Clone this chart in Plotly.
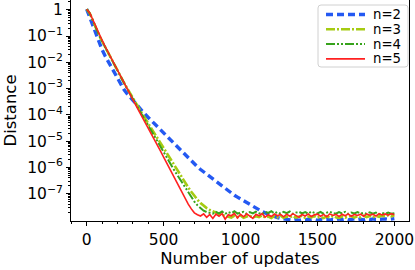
import plotly.graph_objects as go

updates = list(range(0, 2001, 20))

# log10(distance), one value every 20 updates
log_n2 = [0.02, -0.3, -0.62, -0.95, -1.25, -1.52, -1.76, -1.98, -2.2, -2.42,
          -2.63, -2.83, -3.02, -3.18, -3.32, -3.46, -3.59, -3.72, -3.85, -3.98,
          -4.1, -4.22, -4.34, -4.46, -4.58, -4.7, -4.82, -4.94, -5.06, -5.18,
          -5.3, -5.42, -5.54, -5.66, -5.77, -5.88, -5.98, -6.08, -6.17, -6.27,
          -6.37, -6.46, -6.56, -6.65, -6.74, -6.82, -6.9, -6.98, -7.06, -7.13,
          -7.2, -7.27, -7.35, -7.42, -7.49, -7.56, -7.62, -7.68, -7.73, -7.78,
          -7.83, -7.87, -7.91, -7.94, -7.96, -7.98,
          -7.99, -8.01, -7.98, -8.02, -7.99, -8.0, -7.97, -8.01, -7.99, -8.02,
          -7.98, -8.0, -7.97, -8.01, -7.98, -8.0, -7.96, -7.99, -7.97, -8.0,
          -7.98, -7.96, -7.99, -7.97, -8.0, -7.97, -7.99, -7.96, -7.98, -7.97,
          -7.99, -7.96, -7.98, -7.97, -7.95]

log_n3 = [0.02, -0.14, -0.41, -0.7, -0.96, -1.2, -1.43, -1.66, -1.89, -2.11,
          -2.32, -2.54, -2.75, -2.96, -3.17, -3.37, -3.57, -3.76, -3.95, -4.14,
          -4.33, -4.52, -4.71, -4.9, -5.09, -5.28, -5.46, -5.64, -5.83, -6.01,
          -6.2, -6.39, -6.58, -6.76, -6.93, -7.09, -7.23, -7.36, -7.47, -7.55,
          -7.62, -7.68, -7.73, -7.77, -7.81, -7.84,
          -7.86, -7.91, -7.84, -7.9, -7.83, -7.92, -7.87, -7.84, -7.91, -7.86,
          -7.89, -7.83, -7.91, -7.87, -7.93, -7.85, -7.9, -7.84, -7.92, -7.87,
          -7.9, -7.85, -7.91, -7.88, -7.84, -7.92, -7.87, -7.9, -7.85, -7.91,
          -7.88, -7.93, -7.86, -7.91, -7.85, -7.9, -7.92, -7.86, -7.91, -7.88,
          -7.85, -7.91, -7.86, -7.9, -7.84, -7.89, -7.85, -7.9, -7.84, -7.88,
          -7.83, -7.87, -7.82, -7.86, -7.82]

log_n4 = [0.02, -0.14, -0.41, -0.7, -0.96, -1.2, -1.43, -1.66, -1.89, -2.11,
          -2.33, -2.55, -2.77, -2.98, -3.19, -3.4, -3.6, -3.8, -4.0, -4.2,
          -4.41, -4.61, -4.81, -5.01, -5.22, -5.43, -5.63, -5.83, -6.02, -6.21,
          -6.4, -6.59, -6.78, -6.97, -7.14, -7.3, -7.44, -7.56, -7.65, -7.7,
          -7.72, -7.76, -7.69, -7.75, -7.68, -7.77, -7.7, -7.74, -7.67, -7.76,
          -7.72, -7.69, -7.77, -7.7, -7.75, -7.68, -7.74, -7.78, -7.69, -7.73,
          -7.67, -7.75, -7.7, -7.76, -7.69, -7.74, -7.68, -7.77, -7.72, -7.69,
          -7.75, -7.7, -7.76, -7.68, -7.73, -7.75, -7.69, -7.77, -7.72, -7.69,
          -7.74, -7.76, -7.7, -7.75, -7.69, -7.77, -7.72, -7.75, -7.7, -7.76,
          -7.73, -7.77, -7.71, -7.76, -7.72, -7.78, -7.73, -7.77, -7.72, -7.76,
          -7.74]

log_n5 = [0.02, -0.12, -0.38, -0.66, -0.92, -1.16, -1.4, -1.63, -1.86, -2.08,
          -2.3, -2.52, -2.75, -2.98, -3.2, -3.42, -3.64, -3.86, -4.07, -4.28,
          -4.5, -4.72, -4.94, -5.16, -5.38, -5.61, -5.84, -6.07, -6.3, -6.53,
          -6.76, -6.98, -7.2, -7.4, -7.58, -7.73, -7.8,
          -7.85, -7.77, -7.9, -7.79, -7.94, -7.78, -7.86, -7.76, -7.97, -7.8,
          -7.84, -7.75, -7.92, -7.79, -7.88, -7.77, -7.85, -7.94, -7.78, -7.84,
          -7.76, -7.89, -7.8, -7.87, -7.77, -7.84, -7.79, -7.88, -7.78, -7.86,
          -7.76, -7.83, -7.9, -7.79, -7.85, -7.77, -7.87, -7.8, -7.78, -7.86,
          -7.79, -7.88, -7.77, -7.83, -7.79, -7.87, -7.78, -7.84, -7.77, -7.86,
          -7.79, -7.83, -7.78, -7.86, -7.77, -7.82, -7.78, -7.85, -7.76, -7.81,
          -7.77, -7.82, -7.76, -7.8]

names = ["n=2", "n=3", "n=4", "n=5"]
series = [log_n2, log_n3, log_n4, log_n5]
colors = ["#2459f2", "#a6cb12", "#37a31c", "#ff2020"]
widths = [3.4, 2.6, 2.0, 1.6]
dashes = ["7px,4px", "9px,2px,2px,2px", "9px,2px,2px,2px,2px,2px", "solid"]

y_tick_exp = [0, -1, -2, -3, -4, -5, -6, -7]
y_tick_text = ["1"] + ["10<sup>\u2212%d</sup>" % (-e) for e in y_tick_exp[1:]]
x_tick_vals = [0, 500, 1000, 1500, 2000]

fig = go.Figure()
for name, logs, c, w, d in zip(names, series, colors, widths, dashes):
    fig.add_trace(go.Scatter(
        x=updates, y=[10 ** v for v in logs], mode="lines", name=name,
        line=dict(color=c, width=w, dash=d), showlegend=False,
    ))

# legend drawn in plot-area (paper) coordinates, matplotlib style
PLOT_W, PLOT_H = 338.0, 221.0
def px(xp):
    return (xp - 71) / PLOT_W
def py(yp):
    return (PLOT_H - yp) / PLOT_H

# rounded legend frame
L, R, T, B, rad = 318, 408, 5, 67, 3
rx, ry = rad / PLOT_W, rad / PLOT_H
x0, x1, y0, y1 = px(L), px(R), py(B), py(T)
frame = (f"M {x0+rx},{y1} L {x1-rx},{y1} Q {x1},{y1} {x1},{y1-ry} "
         f"L {x1},{y0+ry} Q {x1},{y0} {x1-rx},{y0} L {x0+rx},{y0} "
         f"Q {x0},{y0} {x0},{y0+ry} L {x0},{y1-ry} Q {x0},{y1} {x0+rx},{y1} Z")
fig.add_shape(type="path", xref="paper", yref="paper", path=frame,
              line=dict(color="#d0d0d0", width=1), fillcolor="rgba(255,255,255,0.8)")
for i, (name, c, w, d) in enumerate(zip(names, colors, widths, dashes)):
    yy = py(14.5 + 14.8 * i)
    fig.add_shape(type="line", xref="paper", yref="paper",
                  x0=px(326), x1=px(365), y0=yy, y1=yy,
                  line=dict(color=c, width=w, dash=d))
    fig.add_annotation(xref="paper", yref="paper", x=px(371), y=yy,
                       xanchor="left", yanchor="middle", showarrow=False,
                       text=name, font=dict(size=13.3, family="DejaVu Sans", color="black"))

minor_y = [m * 10.0 ** e for e in range(-9, 1) for m in range(2, 10)]

fig.update_layout(
    width=415, height=270,
    margin=dict(l=71, r=6, t=0, b=49),
    paper_bgcolor="white", plot_bgcolor="white",
    font=dict(family="DejaVu Sans", color="black"),
    showlegend=False,
    xaxis=dict(
        range=[-102, 2095], showgrid=False, zeroline=False,
        showline=True, linecolor="black", linewidth=1, mirror=True,
        ticks="outside", ticklen=4, tickcolor="black",
        tickvals=x_tick_vals, ticktext=[str(v) for v in x_tick_vals],
        tickfont=dict(size=15.5),
        minor=dict(ticks="outside", ticklen=2, tickcolor="black", dtick=100, tick0=0),
        title=dict(text="Number of updates", font=dict(size=16.5), standoff=2),
    ),
    yaxis=dict(
        type="log", range=[-8.04, 0.37], showgrid=False, zeroline=False,
        showline=True, linecolor="black", linewidth=1, mirror=True,
        ticks="outside", ticklen=4, tickcolor="black",
        tickvals=[10.0 ** e for e in y_tick_exp], ticktext=y_tick_text,
        tickfont=dict(size=15.5),
        minor=dict(ticks="outside", ticklen=2, tickcolor="black", tickvals=minor_y),
        title=dict(text="Distance", font=dict(size=16.5), standoff=6),
    ),
)

fig.write_html("out.html", config={"displayModeBar": False},
               post_script="document.body.style.margin='0';")
